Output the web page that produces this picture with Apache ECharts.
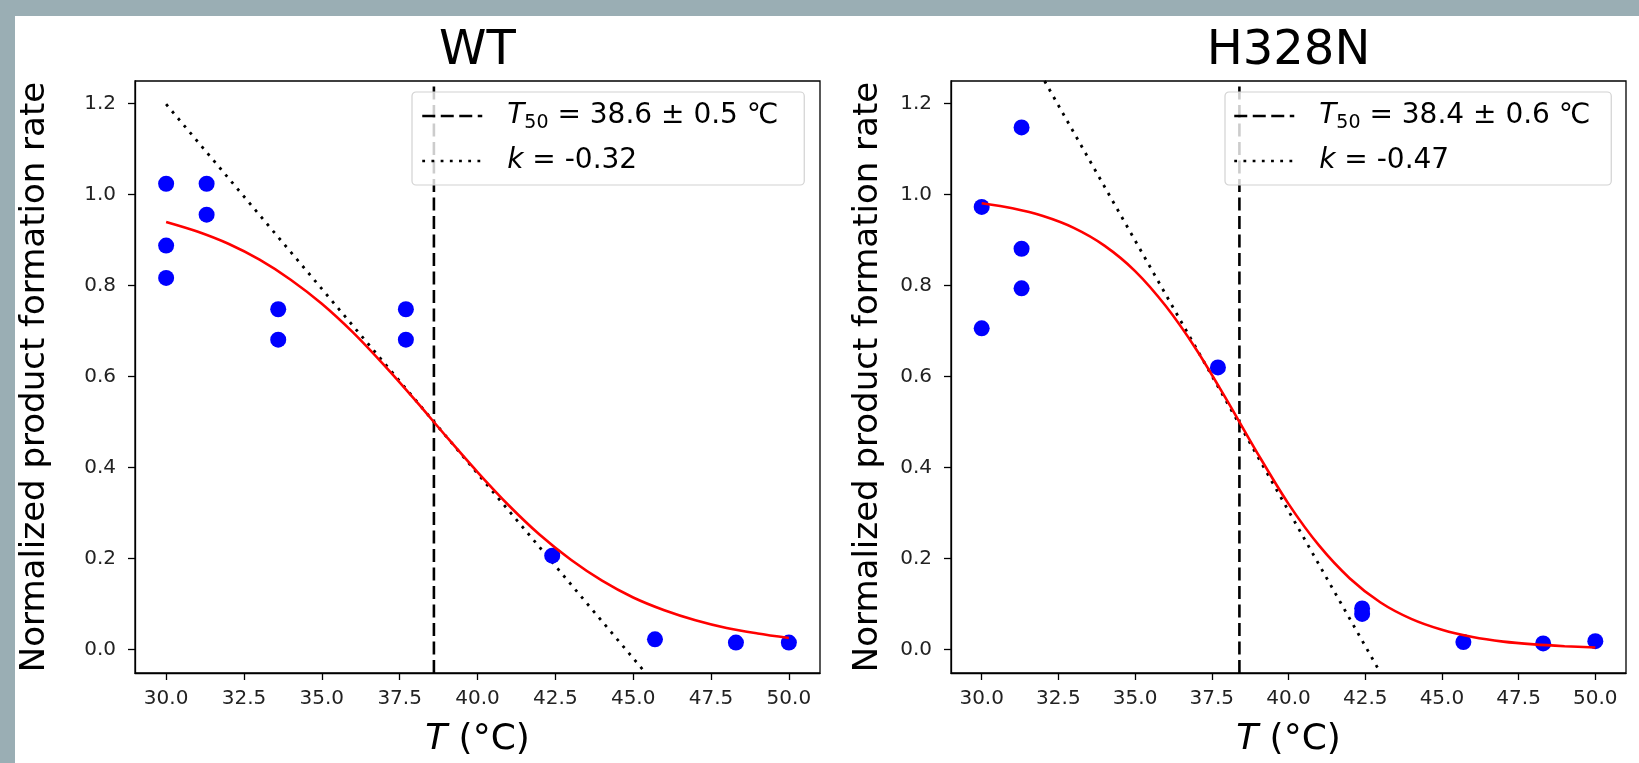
<!DOCTYPE html>
<html>
<head>
<meta charset="utf-8">
<script src="https://cdn.jsdelivr.net/npm/echarts@6/dist/echarts.min.js"></script>
<style>
html,body{margin:0;padding:0;background:#ffffff;}
#c{width:1639px;height:763px;}
</style>
</head>
<body>
<div id="c"></div>
<script>
// ---------- data ----------
const xTicks = [30, 32.5, 35, 37.5, 40, 42.5, 45, 47.5, 50];
const yTicks = [0, 0.2, 0.4, 0.6, 0.8, 1.0, 1.2];
const xLimits = [29, 51];
const yLimits = [-0.052, 1.25];
const panelTitles = ['WT', 'H328N'];
const xAxisTitle = '{i|T} (°C)';
const yAxisTitle = 'Normalized product formation rate';

// measured points
const wtT    = [30, 30, 30, 31.3, 31.3, 33.6, 33.6, 37.7, 37.7, 42.4, 45.7, 48.3, 50];
const wtRate = [1.024, 0.888, 0.817, 1.024, 0.956, 0.748, 0.681, 0.748, 0.681, 0.206, 0.022, 0.015, 0.015];
const h328nT    = [30, 30, 31.3, 31.3, 31.3, 37.7, 42.4, 42.4, 45.7, 48.3, 50];
const h328nRate = [0.973, 0.706, 1.148, 0.881, 0.794, 0.620, 0.090, 0.078, 0.016, 0.013, 0.018];

// fitted curves (red), read at 1 degree steps
const fitT = [30, 31, 32, 33, 34, 35, 36, 37, 38, 39, 40, 41, 42, 43, 44, 45, 46, 47, 48, 49, 50];
const wtFit = [0.940, 0.919, 0.892, 0.857, 0.813, 0.760, 0.697, 0.625, 0.548, 0.468, 0.390, 0.317, 0.252, 0.197, 0.151, 0.114, 0.086, 0.064, 0.047, 0.035, 0.025];
const h328nFit = [0.981, 0.970, 0.953, 0.927, 0.888, 0.832, 0.755, 0.659, 0.547, 0.430, 0.320, 0.228, 0.156, 0.103, 0.067, 0.043, 0.027, 0.017, 0.011, 0.007, 0.004];

// fit parameters
const wtT50 = 38.6, wtT50Err = 0.5, wtK = -0.32;
const h328nT50 = 38.4, h328nT50Err = 0.6, h328nK = -0.47;

// tangent (dotted) line end points
const wtTangentT = [30, 45.4];
const wtTangentRate = [1.199, -0.052];
const h328nTangentT = [32.05, 43.0];
const h328nTangentRate = [1.25, -0.052];

// ---------- chart ----------
const FONT = 'DejaVu Sans';
const zip = (a, b) => a.map((v, i) => [v, b[i]]);

const panels = [
  { title: panelTitles[0], key: 'WT', left: 135, width: 685, yNameGap: 83, legendLeft: 412, legendPad: [7, 14, 7, 9], textW: 303,
    pts: zip(wtT, wtRate), fit: zip(fitT, wtFit), t50: wtT50, err: wtT50Err, k: wtK,
    tan: zip(wtTangentT, wtTangentRate) },
  { title: panelTitles[1], key: 'H328N', left: 951, width: 675, yNameGap: 66, legendLeft: 1225, legendPad: [7, 12, 7, 8], textW: 300,
    pts: zip(h328nT, h328nRate), fit: zip(fitT, h328nFit), t50: h328nT50, err: h328nT50Err, k: h328nK,
    tan: zip(h328nTangentT, h328nTangentRate) }
];
const TOP = 81, HEIGHT = 600;

const option = {
  animation: false,
  backgroundColor: '#ffffff',
  textStyle: { fontFamily: FONT },
  graphic: [
    { type: 'rect', shape: { x: 0, y: 0, width: 1639, height: 16 }, style: { fill: '#9aaeb4' }, silent: true },
    { type: 'rect', shape: { x: 0, y: 0, width: 15, height: 763 }, style: { fill: '#9aaeb4' }, silent: true }
  ],
  title: [], grid: [], xAxis: [], yAxis: [], legend: [], series: []
};

panels.forEach((p, i) => {
  option.title.push({
    text: p.title, left: p.left + p.width / 2, top: 28, textAlign: 'center', padding: 0,
    textStyle: { fontFamily: FONT, fontSize: 48, fontWeight: 'normal', color: '#000', lineHeight: 48 }
  });
  option.grid.push({
    left: p.left, top: TOP, width: p.width, height: HEIGHT, containLabel: false,
    show: true, borderColor: '#000', borderWidth: 1.3, backgroundColor: '#fff'
  });
  option.xAxis.push({
    type: 'value', gridIndex: i, min: xLimits[0], max: xLimits[1],
    name: xAxisTitle, nameLocation: 'middle', nameGap: 49,
    nameTextStyle: { fontFamily: FONT, fontSize: 36, color: '#000', rich: { i: { fontFamily: FONT, fontSize: 36, fontStyle: 'italic', color: '#000' } } },
    axisLine: { show: true, onZero: false, lineStyle: { color: '#000', width: 1.3 } },
    axisTick: { show: true, inside: false, length: 7, customValues: xTicks, lineStyle: { color: '#000', width: 1.3 } },
    axisLabel: { show: true, customValues: xTicks, margin: 16, fontFamily: FONT, fontSize: 20, color: '#222',
      formatter: v => Number(v).toFixed(1) },
    splitLine: { show: false }
  });
  option.yAxis.push({
    type: 'value', gridIndex: i, min: yLimits[0], max: yLimits[1],
    name: yAxisTitle, nameLocation: 'middle', nameRotate: 90, nameGap: p.yNameGap,
    nameTextStyle: { fontFamily: FONT, fontSize: 34, color: '#000' },
    axisLine: { show: true, onZero: false, lineStyle: { color: '#000', width: 1.3 } },
    axisTick: { show: true, inside: false, length: 7, customValues: yTicks, lineStyle: { color: '#000', width: 1.3 } },
    axisLabel: { show: true, customValues: yTicks, margin: 19, fontFamily: FONT, fontSize: 20, color: '#222',
      formatter: v => Number(v).toFixed(1) },
    splitLine: { show: false }
  });

  const nT50 = p.key + ' T50', nK = p.key + ' k';
  const labels = {};
  labels[nT50] = `{i|T}{s|50}{n| = ${p.t50.toFixed(1)} ± ${p.err.toFixed(1)} ℃}`;
  labels[nK] = `{i|k}{n| = ${p.k.toFixed(2)}}`;
  option.legend.push({
    data: [nT50, nK], orient: 'vertical', left: p.legendLeft, top: 92,
    padding: p.legendPad, itemWidth: 60, itemHeight: 14, itemGap: 11,
    backgroundColor: 'rgba(255,255,255,0.8)', borderColor: '#d2d2d2', borderWidth: 1.2, borderRadius: 4,
    selectedMode: false,
    itemStyle: { opacity: 0, borderWidth: 0 },
    lineStyle: { width: 2.5, opacity: 1 },
    formatter: name => labels[name],
    textStyle: {
      fontFamily: FONT, fontSize: 28, color: '#000', lineHeight: 34, width: p.textW,
      rich: {
        i: { fontFamily: FONT, fontSize: 28, fontStyle: 'italic', color: '#000', lineHeight: 34, padding: [0, 0, 0, 20] },
        s: { fontFamily: FONT, fontSize: 19, color: '#000', lineHeight: 19, verticalAlign: 'bottom' },
        n: { fontFamily: FONT, fontSize: 28, color: '#000', lineHeight: 34 }
      }
    }
  });

  option.series.push({
    type: 'scatter', name: p.key + ' data', xAxisIndex: i, yAxisIndex: i,
    data: p.pts, symbol: 'circle', symbolSize: 16, itemStyle: { color: '#0000ff', opacity: 1 }, z: 3
  });
  option.series.push({
    type: 'line', name: p.key + ' fit', xAxisIndex: i, yAxisIndex: i,
    data: p.fit, smooth: 0.3, symbol: 'none', showSymbol: false,
    lineStyle: { color: '#ff0000', width: 2.6 }, z: 4
  });
  option.series.push({
    type: 'line', name: nT50, xAxisIndex: i, yAxisIndex: i,
    data: [[p.t50, yLimits[0]], [p.t50, yLimits[1]]], symbol: 'none', showSymbol: false,
    lineStyle: { color: '#000', width: 2.6, type: [13, 5.5] }, itemStyle: { color: '#000' }, z: 3
  });
  option.series.push({
    type: 'line', name: nK, xAxisIndex: i, yAxisIndex: i,
    data: p.tan, symbol: 'none', showSymbol: false,
    lineStyle: { color: '#000', width: 2.8, type: [2.8, 6.4] }, itemStyle: { color: '#000' }, z: 3
  });
});

const chart = echarts.init(document.getElementById('c'), null, { renderer: 'canvas' });
chart.setOption(option);
</script>
</body>
</html>
